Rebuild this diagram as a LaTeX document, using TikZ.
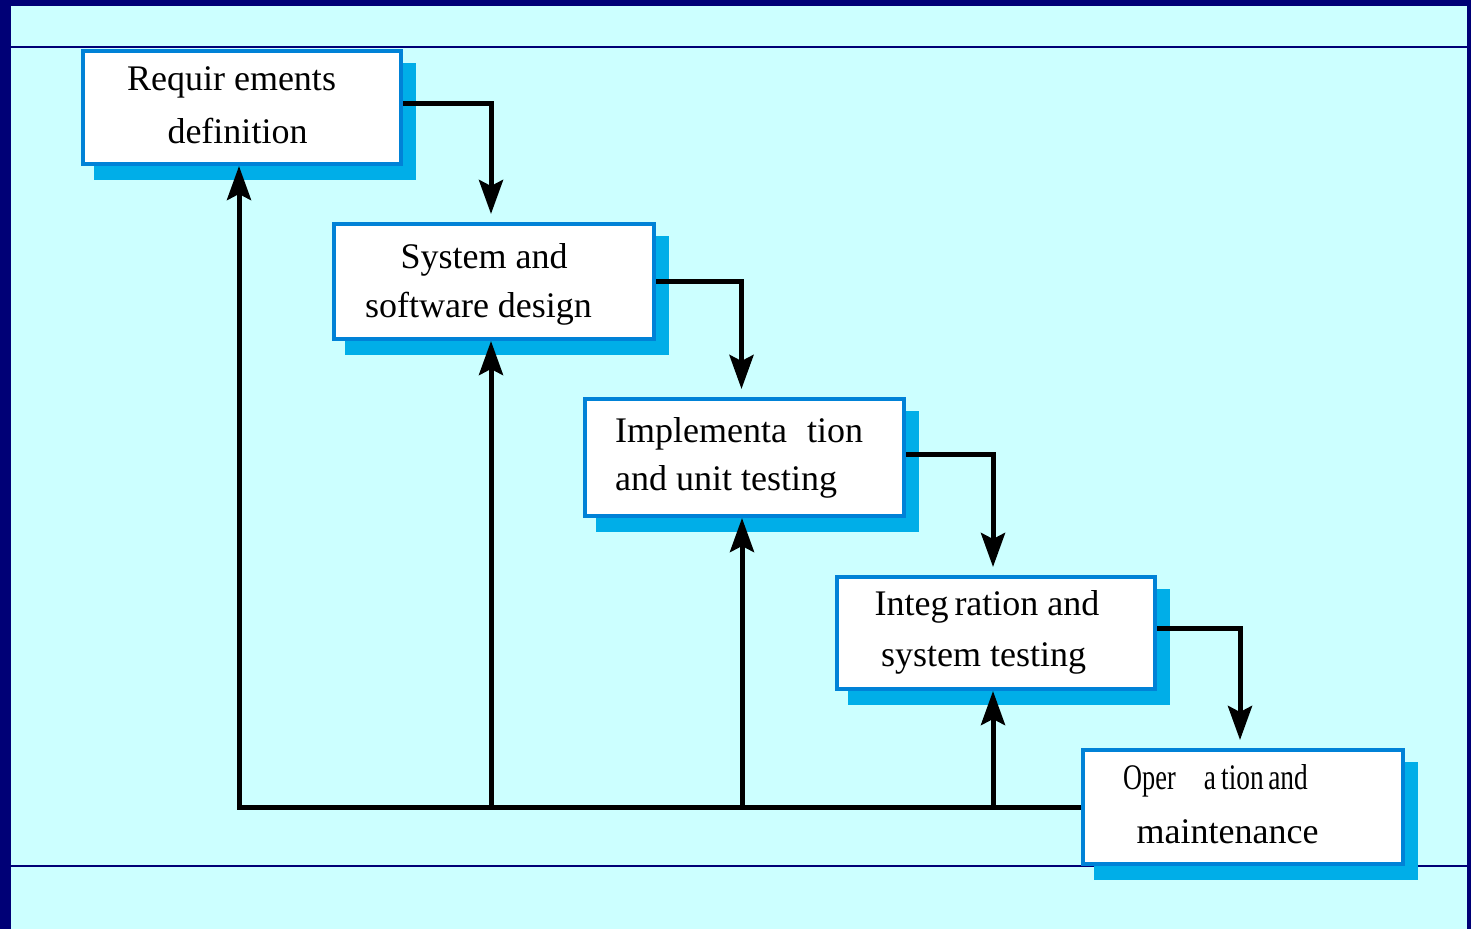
\documentclass[tikz,border=0pt]{standalone}
\usepackage{fontspec}
\setmainfont{Liberation Serif}
\usepackage{graphicx}
\usetikzlibrary{arrows.meta,backgrounds,calc}
\definecolor{navy}{RGB}{0,0,118}
\definecolor{bgc}{RGB}{204,255,255}
\definecolor{boxc}{RGB}{0,130,215}
\definecolor{shc}{RGB}{0,174,232}
\tikzset{
  stagebox/.style={draw=boxc, line width=4pt, fill=white, inner sep=0pt},
  txt/.style={inner sep=0pt, font=\fontsize{36}{50}\selectfont},
  conn/.style={line width=5pt, -{Stealth[length=34pt 0,width=24pt 0,inset=6pt 0]}},
  shadowfill/.style={fill=shc},
}
\begin{document}
\begin{tikzpicture}[x=1pt,y=-1pt]
\useasboundingbox (0,0) rectangle (1471,929);

% boxes
\node[stagebox, minimum width=318pt, minimum height=113pt] (b1) at (242,107.5) {};
\node[stagebox, minimum width=320pt, minimum height=115pt] (b2) at (494,281.5) {};
\node[stagebox, minimum width=319pt, minimum height=117pt] (b3) at (744.5,457.5) {};
\node[stagebox, minimum width=318pt, minimum height=112pt] (b4) at (996,633) {};
\node[stagebox, minimum width=320pt, minimum height=114pt] (b5) at (1243,807) {};

% texts
\node[txt, anchor=base] (t1a) at (231.5,90) {Requir ements};
\node[txt, anchor=base] (t1b) at (237.5,143) {definition};
\node[txt, anchor=base] (t2a) at (484,268) {System and};
\node[txt, anchor=base] (t2b) at (478.5,317) {software design};
\node[txt, anchor=base west] (t3a) at (615,442) {Implementa\hspace{20pt}tion};
\node[txt, anchor=base west] (t3b) at (615,490) {and unit testing};
\node[txt, anchor=base] (t4a) at (987,615) {Integ\hspace{6pt}ration and};
\node[txt, anchor=base] (t4b) at (983.5,666) {system testing};
\node[txt, anchor=base west] (t5a) at (1123,789) {\scalebox{0.73}[1]{Oper}\hspace{28pt}\scalebox{0.76}[1]{a\hspace{7pt}tion\hspace{-3pt} and}};
\node[txt, anchor=base] (t5b) at (1227.5,843) {maintenance};

% background, rules, shadows
\begin{pgfonlayer}{background}
  \fill[navy] (0,0) rectangle (1471,929);
  \fill[bgc] (11,6) rectangle (1467,929);
  \draw[navy, line width=1.3pt] (11,47) -- (1467,47);
  \draw[navy, line width=1.3pt] (11,866) -- (1467,866);
  \foreach \b in {b1,b2,b3,b4,b5}{
    \fill[shadowfill] ([shift={(13pt,-14pt)}]\b.north west) rectangle ([shift={(13pt,-14pt)}]\b.south east);
  }
\end{pgfonlayer}

% forward connectors
\draw[conn] ([yshift=4pt]b1.east) -| ([xshift=-3pt,yshift=8pt]b2.north);
\draw[conn] (b2.east) -| ([xshift=-3pt,yshift=8pt]b3.north);
\draw[conn] ([yshift=3pt]b3.east) -| ([xshift=-3pt,yshift=8pt]b4.north);
\draw[conn] ([yshift=5pt]b4.east) -| ([xshift=-3pt,yshift=8pt]b5.north);

% feedback connectors
\draw[conn] (b5.west) -- ([xshift=-3pt]b1.south |- b5.west) -- ([xshift=-3pt]b1.south);
\draw[conn] ([xshift=-3pt]b2.south |- b5.west) -- ([xshift=-3pt]b2.south);
\draw[conn] ([xshift=-2.5pt]b3.south |- b5.west) -- ([xshift=-2.5pt]b3.south);
\draw[conn] ([xshift=-3pt]b4.south |- b5.west) -- ([xshift=-3pt]b4.south);
\end{tikzpicture}
\end{document}
